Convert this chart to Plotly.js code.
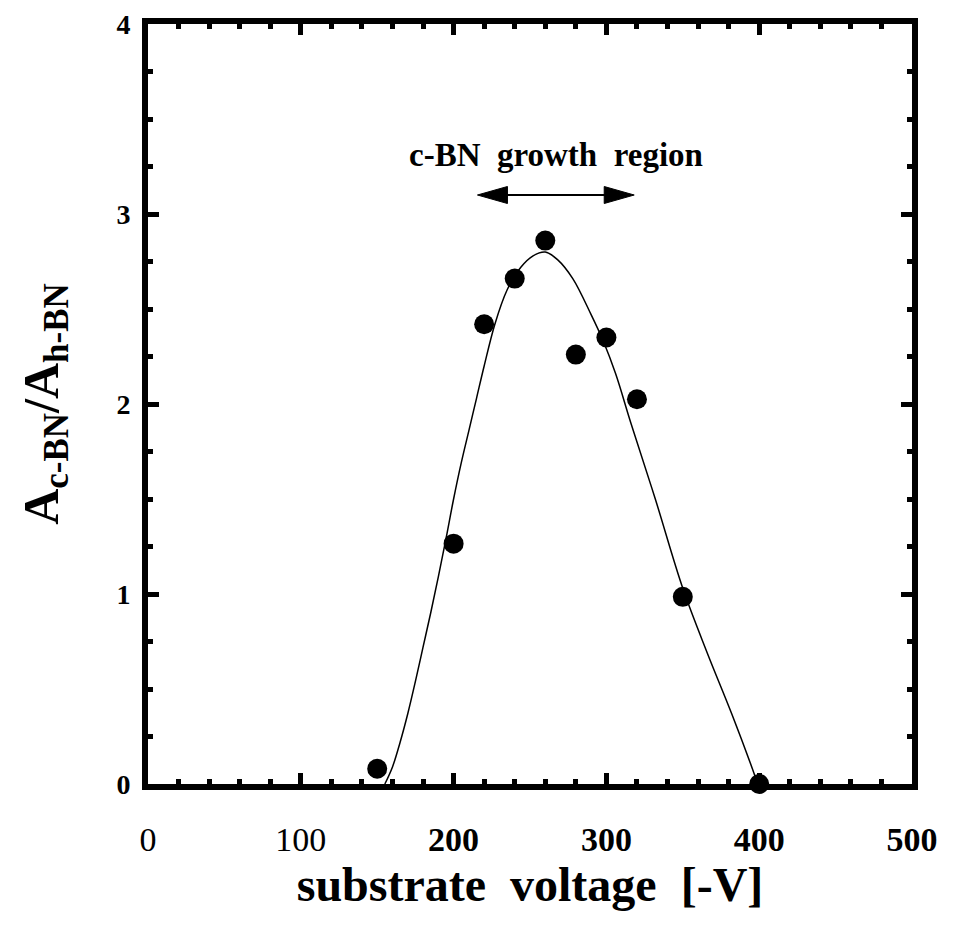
<!DOCTYPE html>
<html>
<head>
<meta charset="utf-8">
<script src="https://cdn.plot.ly/plotly-3.0.1.min.js"></script>
<style>html,body{margin:0;padding:0;background:#fff;}#chart{width:953px;height:928px;}</style>
</head>
<body>
<div id="chart"></div>
<script>
// measured data points
const voltage = [150, 200, 220, 240, 260, 280, 300, 320, 350, 400];
const ratio   = [0.08, 1.265, 2.42, 2.66, 2.86, 2.26, 2.35, 2.025, 0.985, 0.0];

// hand-drawn guide curve
const curveX = [155, 160, 165, 170, 175, 180, 185, 190, 195, 200, 205, 210, 215, 220, 227, 235, 244, 252, 260, 268, 278, 290, 298, 306, 316, 332, 350, 366, 382, 396, 399];
const curveY = [0.00, 0.09, 0.22, 0.37, 0.54, 0.72, 0.90, 1.09, 1.29, 1.50, 1.69, 1.86, 2.03, 2.20, 2.42, 2.60, 2.72, 2.78, 2.80, 2.76, 2.66, 2.47, 2.33, 2.16, 1.90, 1.50, 1.03, 0.69, 0.37, 0.07, 0.00];

// tick labels
const xTickVals = [0, 100, 200, 300, 400, 500];
const xTickText = ['0', '100', '<b>200</b>', '<b>300</b>', '<b>400</b>', '<b>500</b>'];
const yTickVals = [0, 1, 2, 3, 4];
const yTickText = ['<b>0</b>', '<b>1</b>', '<b>2</b>', '<b>3</b>', '<b>4</b>'];

// growth-region arrow (data units)
const arrowX = [215.6, 318.2];
const arrowY = 3.10;
const regionLabel = 'c-BN&nbsp;&nbsp;growth&nbsp;&nbsp;region';

const serif = 'Liberation Serif, Times New Roman, serif';

const traces = [
  {
    x: curveX, y: curveY, type: 'scatter', mode: 'lines',
    line: {color: '#000', width: 1.5, shape: 'spline', smoothing: 1.0},
    hoverinfo: 'skip', showlegend: false
  },
  {
    x: voltage, y: ratio, type: 'scatter', mode: 'markers',
    marker: {color: '#000', size: 20, symbol: 'circle'},
    showlegend: false, cliponaxis: false
  }
];

const axisCommon = {
  showgrid: false, zeroline: false,
  showline: true, linecolor: '#000', linewidth: 6, mirror: 'allticks',
  ticks: 'inside', tickcolor: '#000', tickwidth: 5,
};

const layout = {
  width: 953, height: 928,
  margin: {l: 148, r: 41, t: 24, b: 144},
  paper_bgcolor: '#fff', plot_bgcolor: '#fff',
  font: {family: serif, color: '#000'},
  xaxis: Object.assign({}, axisCommon, {
    range: [0, 500], tickmode: 'array', tickvals: xTickVals, ticktext: xTickText,
    ticklen: 11,
    minor: {dtick: 20, ticks: 'inside', ticklen: 5, tickwidth: 5, tickcolor: '#000'},
    tickfont: {family: serif, size: 34, color: '#000'},
    ticklabelstandoff: 20,
    title: {text: '<b>substrate  voltage  [-V]</b>', font: {family: serif, size: 48, color: '#000'}, standoff: 8}
  }),
  yaxis: Object.assign({}, axisCommon, {
    range: [0, 4], tickmode: 'array', tickvals: yTickVals, ticktext: yTickText,
    ticklen: 11,
    minor: {dtick: 0.25, ticks: 'inside', ticklen: 5, tickwidth: 5, tickcolor: '#000'},
    tickfont: {family: serif, size: 28, color: '#000'},
    ticklabelstandoff: 6,
    title: {text: '<b>A<sub>c-BN</sub>/A<sub>h-BN</sub></b>', font: {family: serif, size: 50, color: '#000'}, standoff: 44}
  }),
  annotations: [
    {
      x: (arrowX[0] + arrowX[1]) / 2, y: arrowY, xref: 'x', yref: 'y',
      text: '<b>' + regionLabel + '</b>', showarrow: false,
      yshift: 40, font: {family: serif, size: 33, color: '#000'}
    }
  ],
  shapes: [
    {type: 'line', xref: 'x', yref: 'y', x0: arrowX[0] + 10, x1: arrowX[1] - 10, y0: arrowY, y1: arrowY,
     line: {color: '#000', width: 2}},
    {type: 'path', xref: 'x', yref: 'y', xsizemode: 'pixel', ysizemode: 'pixel',
     xanchor: arrowX[0], yanchor: arrowY, path: 'M0,0 L30,8.5 L30,-8.5 Z',
     fillcolor: '#000', line: {color: '#000', width: 1}},
    {type: 'path', xref: 'x', yref: 'y', xsizemode: 'pixel', ysizemode: 'pixel',
     xanchor: arrowX[1], yanchor: arrowY, path: 'M0,0 L-30,8.5 L-30,-8.5 Z',
     fillcolor: '#000', line: {color: '#000', width: 1}}
  ]
};

Plotly.newPlot('chart', traces, layout, {displayModeBar: false, staticPlot: true});
</script>
</body>
</html>
